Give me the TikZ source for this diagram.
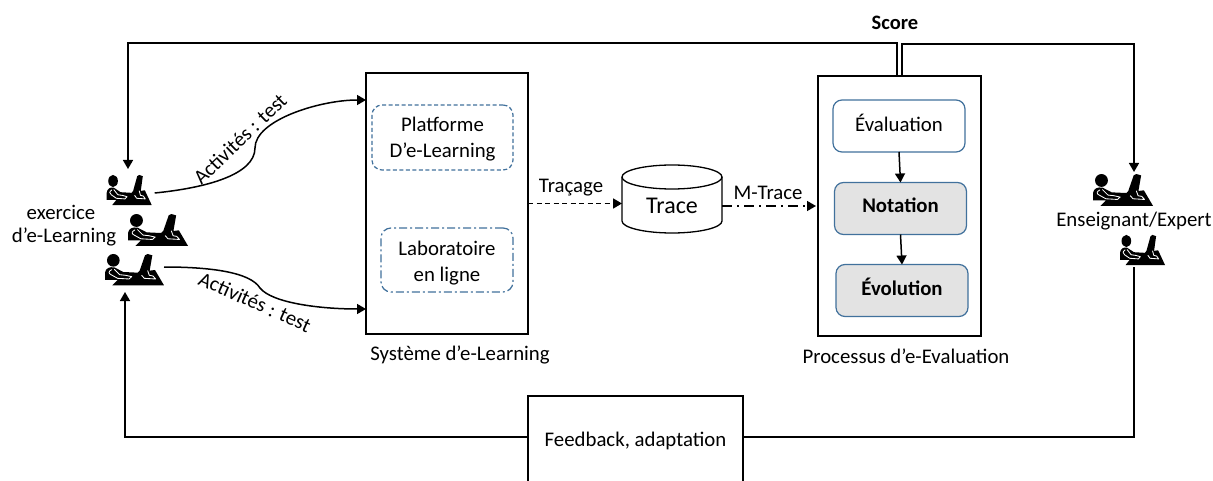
\documentclass[tikz,border=0pt]{standalone}
\usepackage{fontspec}
\setmainfont{Carlito}
\usetikzlibrary{arrows.meta}
\tikzset{
  x=1pt,y=-1pt,
  every node/.style={font=\fontsize{20.8}{26}\selectfont,align=center,inner sep=0pt,outer sep=0pt},
  arrowline/.style={line width=1.5pt,-{Triangle[length=9pt,width=10pt]}},
  plainline/.style={line width=1.5pt},
  blackbox/.style={draw=black,line width=1.6pt,fill=white},
  dashbox/.style={draw=blueline,line width=1.2pt,rounded corners=10pt,dash pattern=on 4pt off 2.5pt},
  dotbox/.style={draw=blueline,line width=1.2pt,rounded corners=10pt,dash pattern=on 8pt off 3pt on 2pt off 3pt},
  stagebox/.style={draw=blueline,line width=1.2pt,rounded corners=9pt,minimum width=132pt,minimum height=52pt,fill=white},
  graystage/.style={stagebox,fill=graystage},
  boldtext/.style={font=\fontsize{20.8}{25}\selectfont\bfseries},
  iconbox/.style={minimum width=#1pt,minimum height=#1*0.57pt},
  pics/person/.style={code={
    \fill (25,25) circle (19);
    \fill (0,84) -- (0,62) .. controls (2,48) and (14,44) .. (28,46) -- (55,60) -- (98,62) -- (104,56) -- (120,10) -- (128,6) -- (142,10) -- (134,56) -- (150,54) -- (177,100) -- (22,100) -- (38,84) -- cycle;
    \draw[white,line width=0.85pt,line join=round,line cap=round] (20,53) .. controls (10,58) and (10,64) .. (18,68) -- (38,79) -- (72,81) -- (80,74) -- (62,70) -- (44,68) -- (28,52);
    \draw[white,line width=0.85pt,line cap=round,line join=round] (110,70) -- (118,79) -- (152,81) -- (144,72) -- (133,70) -- (128,56);
  }},
}
\definecolor{blueline}{HTML}{41719C}
\colorlet{graystage}{black!11}
\begin{document}
\begin{tikzpicture}
\useasboundingbox (0,0) rectangle (1213,481);

% boxes
\node[blackbox,minimum width=162pt,minimum height=261pt] (sys) at (447,203.5) {};
\node[blackbox,minimum width=163pt,minimum height=260pt] (proc) at (899.5,206) {};
\node[blackbox,minimum width=215pt,minimum height=95pt,anchor=north] (fb) at (635.5,396) {};
\node (fbt) at (635.5,441) {Feedback, adaptation};
\coordinate (fbw) at (528,437);
\coordinate (fbe) at (743,437);

\node[dashbox,minimum width=141pt,minimum height=65pt] (plat) at (442.5,137.5) {};
\node (platt) at (442.5,139) {Platforme\\D’e-Learning};
\node[dotbox,minimum width=132pt,minimum height=64pt] (lab) at (447,260) {};
\node (labt) at (447,263) {Laboratoire\\en ligne};

\node[stagebox] (ev) at (899,126) {};
\node (evt) at (899,123) {Évaluation};
\node[graystage] (no) at (900.5,208.5) {};
\node[boldtext] (not) at (900.5,205.5) {Notation};
\node[graystage] (evo) at (902,290.5) {};
\node[boldtext] (evot) at (902,286.5) {Évolution};
\draw[arrowline] (ev.south) -- (no.north);
\draw[arrowline] (no.south) -- (evo.north);

% cylinder
\draw[line width=1.3pt] (622,177) -- (622,221) .. controls (622,227.6) and (644.4,233) .. (672,233) .. controls (699.6,233) and (722,227.6) .. (722,221) -- (722,177);
\draw[line width=1.3pt] (622,177) .. controls (622,170.4) and (644.4,165) .. (672,165) .. controls (699.6,165) and (722,170.4) .. (722,177) .. controls (722,183.6) and (699.6,189) .. (672,189) .. controls (644.4,189) and (622,183.6) .. (622,177) -- cycle;
\node[minimum width=100pt,minimum height=68pt] (trace) at (672,199) {};
\node (tracet) at (672,206) {\fontsize{24}{25}\selectfont Trace};

\draw[arrowline,line width=1.7pt,dash pattern=on 5pt off 3.5pt] (sys.east) -- (trace.west |- sys.east);
\node (tracage) at (571,188) {Traçage};
\draw[arrowline,line width=1.6pt,dash pattern=on 10pt off 5pt on 2pt off 5pt] (trace.east |- proc.west) -- ([xshift=-2pt]proc.west);
\node (mtrace) at (768,193) {M-Trace};

% icons
\node[iconbox=45] (s1) at (129.2,189) {};
\node[iconbox=60] (s2) at (158,228.5) {};
\node[iconbox=59] (s3) at (134.5,269) {};
\node[iconbox=60] (t1) at (1123,188.5) {};
\node[iconbox=45] (t2) at (1142.5,249) {};
\pic[xscale=0.2542,yscale=0.32] at (106.7,173) {person};
\pic[scale=0.3390] at (128,212) {person};
\pic[scale=0.3333] at (105,252) {person};
\pic[scale=0.3390] at (1093,172) {person};
\pic[xscale=0.2542,yscale=0.32] at (1120,233) {person};

% curved connectors
\coordinate (c1) at (255,148);
\coordinate (c2) at (260,288);
\draw[arrowline] (s1.east) ++(3,4) .. controls (205,188) and (255,175) .. (c1) .. controls (255,120) and (320,100) .. (sys.west |- 0,100);
\draw[arrowline] (s3.east) ++(0,-2) .. controls (210,267) and (250,272) .. (c2) .. controls (272,303) and (320,309) .. (sys.west |- 0,309);
\node[rotate=44] (act1) at (240,139) {Activités : test};
\node[rotate=-24] (act2) at (255,302) {Activités : test};

% score and feedback
\node[font=\fontsize{20.5}{20}\selectfont\bfseries] (score) at (895,23) {Score};
\coordinate (scl) at (897,76);
\coordinate (scr) at (902,76);
\draw[arrowline] (scl) -- (897,43) -- (128,43) -- (128,169);
\draw[arrowline] (scr) -- (902,44) -- (1134,44) -- (1134,172);
\draw[arrowline] (fbw) -- (125,437) -- (125,292);
\draw[plainline] (fbe) -- (1134,437) -- (1134,267);

% labels
\node (syslab) at (460,355) {Système d’e-Learning};
\node (proclab) at (906,356) {Processus d’e-Evaluation};
\node (ex1) at (61,212) {exercice};
\node (ex2) at (64,237) {d’e-Learning};
\node (ens) at (1134,221) {Enseignant/Expert};
\end{tikzpicture}
\end{document}
